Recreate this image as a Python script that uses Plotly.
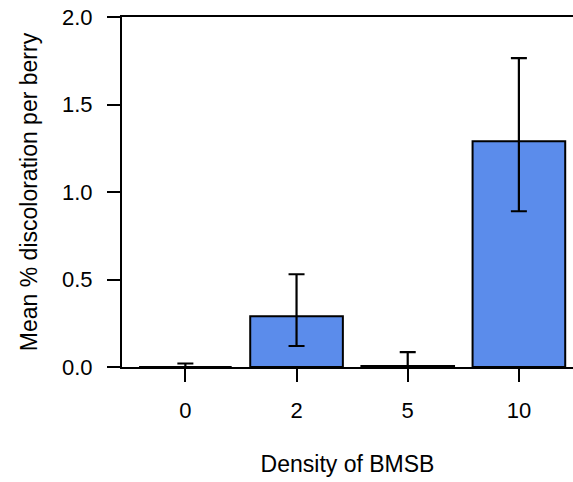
import plotly.graph_objects as go

# Density of BMSB vs mean % discoloration per berry, with confidence limits
densities = ["0", "2", "5", "10"]
mean_discoloration = [0.0, 0.29, 0.006, 1.29]
ci_upper = [0.02, 0.53, 0.085, 1.765]
ci_lower = [0.0, 0.12, 0.0, 0.89]

# barplot-style positions (width 1, space 0.2)
x_pos = [0.7 + 1.2 * i for i in range(len(densities))]
err_plus = [u - m for u, m in zip(ci_upper, mean_discoloration)]
err_minus = [m - l for m, l in zip(mean_discoloration, ci_lower)]

font = "Liberation Sans, Arial, Helvetica, sans-serif"

fig = go.Figure(
    go.Bar(
        x=x_pos,
        y=mean_discoloration,
        width=1.0,
        marker=dict(color="#5b8ceb", line=dict(color="black", width=2)),
        error_y=dict(
            type="data",
            symmetric=False,
            array=err_plus,
            arrayminus=err_minus,
            color="black",
            thickness=2.2,
            width=8,
        ),
    )
)

fig.update_layout(
    width=573,
    height=482,
    margin=dict(l=122, r=0, t=17, b=115),
    paper_bgcolor="white",
    plot_bgcolor="white",
    showlegend=False,
    font=dict(family=font, size=22, color="black"),
    xaxis=dict(
        range=[0.016, 4.884],
        tickvals=x_pos,
        ticktext=densities,
        showline=True,
        linecolor="black",
        linewidth=2,
        mirror=True,
        ticks="outside",
        ticklen=13,
        tickwidth=1.5,
        tickcolor="black",
        showgrid=False,
        zeroline=False,
        ticklabelstandoff=10,
        title=dict(text="Density of BMSB", font=dict(size=23), standoff=33),
    ),
    yaxis=dict(
        range=[0, 2.0],
        tickvals=[0, 0.5, 1.0, 1.5, 2.0],
        ticktext=["0.0", "0.5", "1.0", "1.5", "2.0"],
        showline=True,
        linecolor="black",
        linewidth=2,
        ticks="outside",
        ticklen=13,
        tickwidth=1.5,
        tickcolor="black",
        showgrid=False,
        zeroline=False,
        ticklabelstandoff=10,
        title=dict(text="Mean % discoloration per berry", font=dict(size=23), standoff=18),
    ),
)

fig.write_html("out.html")
